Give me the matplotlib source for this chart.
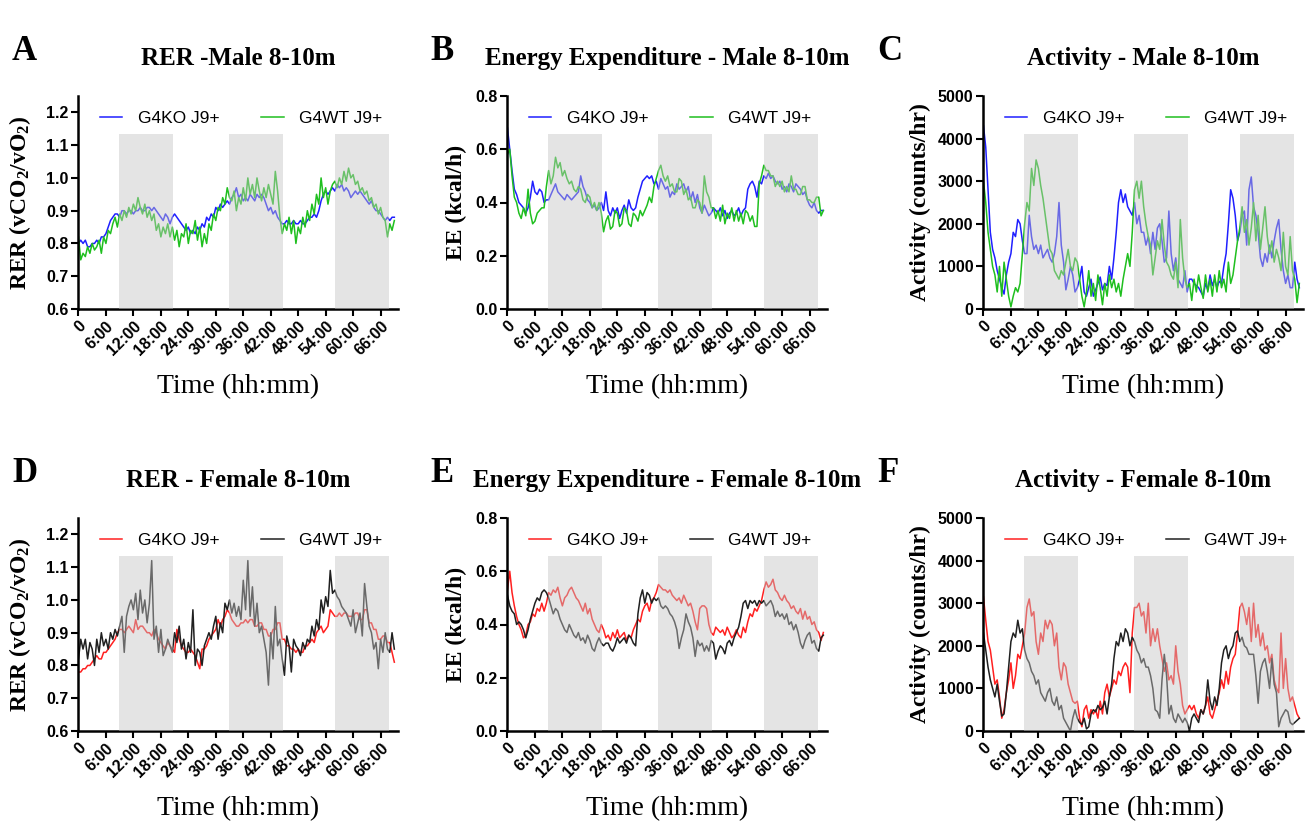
import matplotlib

matplotlib.use("Agg")
import matplotlib.pyplot as plt
import numpy as np

plt.rcParams["mathtext.default"] = "regular"

SERIF = "Liberation Serif"
SANS = "Liberation Sans"

STEP_H = 0.5  # sampling interval of the series, hours
DARK_PERIODS = [(8.9, 20.7), (32.9, 44.6), (56.0, 67.9)]
TICK_HOURS = list(range(0, 67, 6))
TICK_LABELS = ["0"] + [f"{h}:00" for h in TICK_HOURS[1:]]

# ---- male 8-10m -------------------------------------------------------------
rer_male_ko = [
    0.80, 0.81, 0.80, 0.81, 0.79, 0.79, 0.80, 0.80, 0.81, 0.80,
    0.82, 0.82, 0.83, 0.85, 0.87, 0.88, 0.89, 0.89, 0.88, 0.90,
    0.90, 0.89, 0.90, 0.90, 0.89, 0.90, 0.90, 0.91, 0.90, 0.90,
    0.91, 0.91, 0.90, 0.91, 0.90, 0.89, 0.88, 0.87, 0.89, 0.88,
    0.86, 0.88, 0.89, 0.88, 0.87, 0.86, 0.85, 0.84, 0.85, 0.83,
    0.84, 0.83, 0.85, 0.84, 0.86, 0.85, 0.88, 0.87, 0.89, 0.88,
    0.91, 0.90, 0.92, 0.91, 0.92, 0.93, 0.92, 0.94, 0.95, 0.97,
    0.94, 0.95, 0.93, 0.94, 0.93, 0.95, 0.94, 0.93, 0.95, 0.94,
    0.95, 0.94, 0.92, 0.90, 0.91, 0.89, 0.90, 0.88, 0.87, 0.86,
    0.86, 0.87, 0.86, 0.86, 0.87, 0.86, 0.86, 0.87, 0.86, 0.86,
    0.87, 0.88, 0.88, 0.89, 0.88, 0.90, 0.93, 0.95, 0.96, 0.95,
    0.96, 0.97, 0.96, 0.98, 0.97, 0.98, 0.96, 0.97, 0.96, 0.94,
    0.95, 0.96, 0.95, 0.96, 0.95, 0.94, 0.93, 0.92, 0.93, 0.91,
    0.90, 0.90, 0.89, 0.88, 0.87, 0.88, 0.87, 0.88, 0.88,
]
rer_male_wt = [
    0.82, 0.75, 0.77, 0.76, 0.79, 0.77, 0.80, 0.78, 0.79, 0.81,
    0.77, 0.82, 0.80, 0.84, 0.83, 0.86, 0.88, 0.85, 0.89, 0.87,
    0.90, 0.88, 0.91, 0.89, 0.92, 0.90, 0.94, 0.91, 0.89, 0.92,
    0.88, 0.90, 0.87, 0.89, 0.84, 0.86, 0.82, 0.85, 0.83, 0.86,
    0.82, 0.85, 0.81, 0.84, 0.79, 0.83, 0.82, 0.86, 0.80, 0.84,
    0.83, 0.87, 0.81, 0.85, 0.79, 0.83, 0.80, 0.86, 0.84, 0.89,
    0.87, 0.91, 0.90, 0.94, 0.92, 0.97, 0.94, 0.93, 0.96, 0.90,
    0.94, 0.92, 0.97, 0.93, 1.00, 0.95, 0.98, 0.94, 1.00, 0.96,
    0.93, 0.97, 0.94, 0.98, 0.95, 0.92, 1.02, 0.96, 0.88, 0.83,
    0.86, 0.84, 0.88, 0.83, 0.87, 0.80, 0.85, 0.83, 0.88, 0.85,
    0.90, 0.87, 0.92, 0.89, 0.95, 0.92, 1.00, 0.94, 0.97, 0.92,
    0.96, 0.98, 0.99, 0.97, 1.00, 0.98, 1.02, 0.99, 1.03, 1.00,
    1.01, 0.98, 0.99, 0.96, 0.97, 0.95, 0.96, 0.93, 0.94, 0.91,
    0.92, 0.89, 0.91, 0.88, 0.87, 0.82, 0.86, 0.84, 0.87,
]
ee_male_ko = [
    0.68, 0.60, 0.52, 0.45, 0.43, 0.40, 0.39, 0.38, 0.36, 0.38,
    0.42, 0.48, 0.44, 0.43, 0.45, 0.44, 0.40, 0.41, 0.41, 0.43,
    0.45, 0.47, 0.44, 0.43, 0.42, 0.41, 0.43, 0.42, 0.41, 0.42,
    0.43, 0.44, 0.50, 0.46, 0.44, 0.41, 0.40, 0.38, 0.39, 0.37,
    0.38, 0.40, 0.37, 0.44, 0.37, 0.35, 0.38, 0.36, 0.38, 0.34,
    0.37, 0.39, 0.36, 0.41, 0.38, 0.37, 0.38, 0.42, 0.45, 0.48,
    0.49, 0.50, 0.49, 0.50, 0.47, 0.48, 0.45, 0.49, 0.47, 0.45,
    0.46, 0.42, 0.44, 0.43, 0.47, 0.45, 0.46, 0.47, 0.44, 0.46,
    0.41, 0.44, 0.40, 0.43, 0.38, 0.36, 0.39, 0.37, 0.35, 0.36,
    0.38, 0.37, 0.36, 0.38, 0.35, 0.37, 0.34, 0.36, 0.37, 0.35,
    0.36, 0.38, 0.35, 0.37, 0.38, 0.45, 0.47, 0.48, 0.46, 0.42,
    0.48, 0.47, 0.50, 0.49, 0.51, 0.49, 0.50, 0.48, 0.47, 0.48,
    0.45, 0.46, 0.44, 0.47, 0.46, 0.44, 0.47, 0.46, 0.45, 0.43,
    0.44, 0.41, 0.39, 0.38, 0.40, 0.37, 0.36, 0.37, 0.37,
]
ee_male_wt = [
    0.58, 0.60, 0.50, 0.42, 0.40, 0.36, 0.34, 0.38, 0.35, 0.45,
    0.36, 0.32, 0.33, 0.36, 0.37, 0.38, 0.38, 0.46, 0.52, 0.47,
    0.50, 0.57, 0.53, 0.55, 0.50, 0.52, 0.49, 0.47, 0.48, 0.45,
    0.44, 0.46, 0.45, 0.41, 0.40, 0.43, 0.42, 0.38, 0.40, 0.37,
    0.40, 0.36, 0.29, 0.33, 0.35, 0.30, 0.31, 0.37, 0.36, 0.31,
    0.32, 0.38, 0.37, 0.32, 0.31, 0.36, 0.35, 0.33, 0.37, 0.35,
    0.37, 0.39, 0.42, 0.40, 0.46, 0.49, 0.52, 0.54, 0.50, 0.48,
    0.50, 0.46, 0.47, 0.44, 0.44, 0.49, 0.48, 0.43, 0.45, 0.41,
    0.42, 0.38, 0.38, 0.41, 0.40, 0.36, 0.50, 0.44, 0.42, 0.38,
    0.38, 0.34, 0.37, 0.33, 0.39, 0.32, 0.36, 0.34, 0.38, 0.33,
    0.37, 0.33, 0.36, 0.32, 0.37, 0.36, 0.33, 0.35, 0.31, 0.31,
    0.47, 0.50, 0.54, 0.52, 0.52, 0.50, 0.50, 0.46, 0.48, 0.46,
    0.48, 0.44, 0.46, 0.44, 0.50, 0.45, 0.45, 0.43, 0.43, 0.46,
    0.46, 0.41, 0.41, 0.40, 0.40, 0.42, 0.42, 0.35, 0.37,
]
act_male_ko = [
    4300, 3800, 2800, 1800, 1400, 1200, 900, 700, 500, 350,
    800, 1100, 1300, 1800, 1700, 2100, 2000, 1600, 1300, 1300,
    2200, 1700, 1400, 1500, 1300, 1500, 1200, 1300, 1400, 1200,
    1100, 1300, 1700, 2500, 1500, 1100, 450, 700, 1000, 800,
    400, 500, 700, 1000, 400, 300, 500, 700, 300, 450,
    600, 750, 450, 600, 550, 1000, 700, 1200, 1800, 2500,
    2800, 2500, 2700, 2400, 2300, 2200, 2500, 2000, 2200, 1800,
    1800, 1500, 1700, 1300, 1800, 1400, 1900, 2000, 1600, 1100,
    1200, 2300, 1300, 900, 1200, 700, 600, 500, 900, 400,
    700, 700, 600, 550, 500, 400, 300, 600, 450, 800,
    550, 700, 500, 650, 600, 1000, 1300, 2000, 2800, 2600,
    2200, 1600, 1800, 2200, 2300, 1500, 2800, 3100, 2400, 2200,
    1800, 1200, 1000, 1300, 1100, 1500, 1200, 1600, 1900, 2100,
    1400, 900, 600, 800, 500, 500, 1100, 700, 500,
]
act_male_wt = [
    3000, 2500, 1800, 1400, 1000, 800, 400, 1000, 300, 1100,
    700, 300, 50, 300, 500, 400, 600, 1300, 2000, 2500,
    2300, 3300, 2900, 3500, 3300, 2900, 2600, 2200, 1800, 1400,
    1300, 900, 800, 700, 900, 800, 1100, 1400, 1000, 900,
    1200, 1100, 700, 300, 50, 400, 900, 300, 600, 200,
    800, 500, 100, 600, 300, 800, 500, 700, 400, 600,
    300, 700, 1000, 1300, 1000, 1800, 2800, 3000, 2600, 3000,
    2400, 2000, 1700, 1500, 800, 1200, 1600, 1400, 2100, 1500,
    1100, 1000, 800, 700, 1100, 500, 2100, 1200, 700, 500,
    600, 200, 700, 400, 800, 500, 250, 800, 400, 700,
    300, 800, 400, 900, 500, 700, 400, 1100, 600, 800,
    1200, 1600, 1900, 2400, 1800, 2100, 1500, 1900, 2500, 1600,
    2200, 1400, 1900, 2400, 1700, 1300, 1600, 1100, 1400, 1200,
    900, 1800, 1000, 800, 1700, 900, 700, 150, 600,
]

# ---- female 8-10m -----------------------------------------------------------
rer_female_ko = [
    0.78, 0.78, 0.79, 0.79, 0.80, 0.80, 0.81, 0.82, 0.83, 0.82,
    0.82, 0.84, 0.84, 0.85, 0.86, 0.87, 0.88, 0.90, 0.91, 0.91,
    0.90, 0.91, 0.92, 0.91, 0.90, 0.94, 0.91, 0.92, 0.92, 0.91,
    0.90, 0.90, 0.89, 0.91, 0.90, 0.88, 0.87, 0.86, 0.85, 0.87,
    0.86, 0.85, 0.84, 0.91, 0.88, 0.86, 0.85, 0.84, 0.84, 0.85,
    0.84, 0.83, 0.81, 0.79, 0.85, 0.85, 0.86, 0.88, 0.89, 0.90,
    0.91, 0.94, 0.92, 0.94, 0.95, 0.97, 0.96, 0.94, 0.93, 0.92,
    0.92, 0.93, 0.93, 0.94, 0.93, 0.94, 0.94, 0.92, 0.92, 0.93,
    0.93, 0.91, 0.91, 0.89, 0.89, 0.91, 0.91, 0.93, 0.93, 0.88,
    0.88, 0.86, 0.86, 0.85, 0.85, 0.84, 0.85, 0.84, 0.84, 0.86,
    0.86, 0.87, 0.88, 0.87, 0.90, 0.91, 0.92, 0.90, 0.91, 0.92,
    0.97, 0.96, 0.95, 0.95, 0.96, 0.95, 0.96, 0.96, 0.95, 0.95,
    0.95, 0.96, 0.96, 0.94, 0.94, 0.97, 0.97, 0.93, 0.93, 0.91,
    0.91, 0.88, 0.88, 0.89, 0.89, 0.87, 0.87, 0.84, 0.81,
]
rer_female_wt = [
    0.82, 0.88, 0.85, 0.88, 0.82, 0.87, 0.85, 0.80, 0.88, 0.84,
    0.90, 0.86, 0.88, 0.85, 0.90, 0.88, 0.91, 0.89, 0.92, 0.95,
    0.84, 0.95, 0.98, 1.00, 0.97, 1.02, 0.94, 1.03, 0.96, 1.00,
    0.93, 0.99, 1.12, 0.88, 0.92, 0.84, 0.91, 0.83, 0.85, 0.88,
    0.86, 0.84, 0.90, 0.87, 0.92, 0.85, 0.88, 0.82, 0.87, 0.84,
    0.97, 0.80, 0.85, 0.84, 0.80, 0.86, 0.88, 0.90, 0.88, 0.92,
    0.95, 0.88, 0.93, 0.90, 0.99, 0.97, 1.00, 0.96, 0.99, 0.95,
    0.98, 0.94, 1.06, 0.97, 1.12, 0.95, 1.04, 0.92, 0.99, 0.90,
    0.92, 0.88, 0.84, 0.74, 0.90, 0.82, 0.98, 0.86, 0.88, 0.82,
    0.77, 0.89, 0.86, 0.78, 0.88, 0.86, 0.85, 0.83, 0.87, 0.85,
    0.88, 0.87, 0.92, 0.89, 0.94, 0.91, 1.00, 0.96, 1.01, 0.98,
    1.09, 1.02, 1.03, 1.01, 1.00, 0.98, 0.97, 0.96, 0.94, 0.92,
    0.97, 0.90, 0.93, 0.96, 0.89, 1.05, 0.98, 0.92, 0.90, 0.85,
    0.87, 0.79, 0.88, 0.84, 0.90, 0.85, 0.84, 0.90, 0.85,
]
ee_female_ko = [
    0.53, 0.60, 0.52, 0.47, 0.43, 0.40, 0.38, 0.35, 0.36, 0.40,
    0.41, 0.44, 0.43, 0.46, 0.45, 0.48, 0.45, 0.48, 0.52, 0.51,
    0.53, 0.52, 0.54, 0.50, 0.47, 0.50, 0.51, 0.53, 0.54, 0.52,
    0.50, 0.49, 0.47, 0.45, 0.48, 0.44, 0.46, 0.42, 0.40, 0.38,
    0.37, 0.40, 0.38, 0.35, 0.36, 0.34, 0.37, 0.35, 0.38, 0.35,
    0.36, 0.37, 0.34, 0.36, 0.35, 0.38, 0.40, 0.42, 0.41, 0.45,
    0.47, 0.48, 0.45, 0.49, 0.50, 0.52, 0.55, 0.54, 0.53, 0.53,
    0.52, 0.53, 0.51, 0.50, 0.49, 0.50, 0.48, 0.51, 0.49, 0.47,
    0.48, 0.45, 0.41, 0.38, 0.46, 0.47, 0.47, 0.46, 0.40, 0.37,
    0.36, 0.39, 0.38, 0.37, 0.38, 0.36, 0.39, 0.37, 0.35, 0.36,
    0.38, 0.36, 0.35, 0.39, 0.37, 0.41, 0.44, 0.43, 0.46, 0.45,
    0.47, 0.49, 0.53, 0.56, 0.54, 0.55, 0.57, 0.53, 0.52, 0.50,
    0.49, 0.51, 0.49, 0.48, 0.46, 0.47, 0.45, 0.44, 0.46, 0.42,
    0.45, 0.42, 0.43, 0.40, 0.41, 0.38, 0.37, 0.34, 0.37,
]
ee_female_wt = [
    0.51, 0.47, 0.45, 0.44, 0.40, 0.41, 0.40, 0.38, 0.35, 0.38,
    0.42, 0.45, 0.48, 0.50, 0.49, 0.52, 0.53, 0.52, 0.50, 0.47,
    0.44, 0.46, 0.45, 0.42, 0.40, 0.38, 0.37, 0.40, 0.38, 0.36,
    0.35, 0.37, 0.34, 0.35, 0.33, 0.36, 0.34, 0.31, 0.30, 0.33,
    0.35, 0.33, 0.32, 0.33, 0.33, 0.31, 0.30, 0.32, 0.35, 0.33,
    0.34, 0.35, 0.33, 0.36, 0.35, 0.33, 0.32, 0.44, 0.50, 0.53,
    0.48, 0.52, 0.51, 0.48, 0.50, 0.49, 0.50, 0.47, 0.46, 0.47,
    0.46, 0.44, 0.43, 0.41, 0.38, 0.31, 0.35, 0.38, 0.44, 0.41,
    0.39, 0.35, 0.28, 0.34, 0.32, 0.33, 0.30, 0.32, 0.30, 0.34,
    0.33, 0.27, 0.30, 0.32, 0.31, 0.29, 0.33, 0.34, 0.32, 0.35,
    0.37, 0.39, 0.43, 0.48, 0.49, 0.46, 0.49, 0.48, 0.49, 0.47,
    0.49, 0.48, 0.49, 0.47, 0.48, 0.49, 0.47, 0.43, 0.45, 0.43,
    0.44, 0.42, 0.44, 0.40, 0.41, 0.38, 0.40, 0.37, 0.33, 0.31,
    0.34, 0.36, 0.37, 0.33, 0.34, 0.31, 0.30, 0.35, 0.36,
]
act_female_ko = [
    3150, 2600, 2100, 1900, 1500, 1100, 1200, 800, 300, 500,
    900, 1200, 1600, 1000, 1300, 1800, 1700, 2000, 2300, 2900,
    3100, 2700, 2800, 2100, 1800, 2300, 2100, 2600, 2400, 2600,
    2500, 2000, 2300, 1500, 1200, 1600, 1500, 1100, 900, 700,
    650, 700, 300, 100, 500, 600, 300, 500, 400, 500,
    300, 700, 400, 900, 1100, 800, 1000, 1200, 1100, 1400,
    1300, 1500, 1600, 1500, 900, 2300, 2900, 2900, 3000, 2700,
    2800, 2300, 3000, 2000, 2400, 2100, 2400, 2000, 1700, 1400,
    1600, 1200, 1300, 1100, 2000, 1400, 1100, 600, 400, 500,
    600, 500, 600, 400, 300, 500, 400, 600, 800, 400,
    300, 500, 700, 900, 1200, 1000, 1400, 1100, 1500, 1700,
    1800, 2300, 2900, 3000, 2800, 2500, 2900, 2100, 3000, 2200,
    2500, 2000, 2300, 1900, 2000, 1600, 1800, 1200, 1000, 900,
    2300, 1000, 1700, 1000, 700, 800, 600, 400, 300,
]
act_female_wt = [
    2300, 1900, 1500, 1200, 1000, 800, 1100, 700, 350, 400,
    900, 1500, 2100, 2300, 2200, 2600, 2300, 2400, 1900, 1700,
    1600, 1400, 1300, 1100, 1200, 900, 800, 700, 900, 1000,
    700, 600, 800, 500, 600, 300, 200, 100, 0, 300,
    500, 300, 200, 150, 300, 50, 100, 400, 500, 450,
    600, 500, 550, 700, 400, 800, 1100, 1700, 2100, 2000,
    2300, 2100, 2400, 2300, 2000, 2200, 2100, 1900, 1800, 1600,
    1700, 1500, 1500, 1300, 1000, 500, 450, 300, 1200, 1800,
    1300, 400, 600, 300, 200, 400, 300, 200, 300, 200,
    0, 300, 400, 300, 200, 500, 400, 600, 1200, 700,
    500, 800, 600, 1000, 1600, 1900, 2000, 1700, 1900, 2000,
    2300, 2350, 2100, 2200, 2000, 1950, 1800, 1800, 1800, 1300,
    650, 1400, 1600, 1700, 1400, 1000, 1700, 1100, 900, 100,
    300, 400, 500, 450, 200, 150, 200, 250, 300,
]

MALE_COLORS = ("#1f1fff", "#1fbf1f")
FEMALE_COLORS = ("#ff2020", "#202020")
GROUP_LABELS = ("G4KO J9+", "G4WT J9+")

RER_TICKS = [0.6, 0.7, 0.8, 0.9, 1.0, 1.1, 1.2]
EE_TICKS = [0.0, 0.2, 0.4, 0.6, 0.8]
ACT_TICKS = [0, 1000, 2000, 3000, 4000, 5000]

PANELS = [
    ("A", "RER -Male 8-10m", (rer_male_ko, rer_male_wt), MALE_COLORS,
     (0.6, 1.25), RER_TICKS, "{:.1f}", "RER (vCO$_2$/vO$_2$)", 9),
    ("B", "Energy Expenditure - Male 8-10m", (ee_male_ko, ee_male_wt), MALE_COLORS,
     (0.0, 0.8), EE_TICKS, "{:.1f}", "EE (kcal/h)", 6),
    ("C", "Activity - Male 8-10m", (act_male_ko, act_male_wt), MALE_COLORS,
     (0, 5000), ACT_TICKS, "{:d}", "Activity (counts/hr)", 5),
    ("D", "RER - Female 8-10m", (rer_female_ko, rer_female_wt), FEMALE_COLORS,
     (0.6, 1.25), RER_TICKS, "{:.1f}", "RER (vCO$_2$/vO$_2$)", 9),
    ("E", "Energy Expenditure - Female 8-10m", (ee_female_ko, ee_female_wt), FEMALE_COLORS,
     (0.0, 0.8), EE_TICKS, "{:.1f}", "EE (kcal/h)", 6),
    ("F", "Activity - Female 8-10m", (act_female_ko, act_female_wt), FEMALE_COLORS,
     (0, 5000), ACT_TICKS, "{:d}", "Activity (counts/hr)", 5),
]

W, H = 1309, 824
AX_LEFT = [78, 507, 983]
AX_TOP = [96, 518]
AX_W, AX_H = 320, 213
LETTER_X = [12, 430, 877]


def draw_panel(ax, title, series, colors, ylim, yticks, yfmt, ylabel, ypad):
    for vals, color, label in zip(series, colors, GROUP_LABELS):
        t = np.arange(len(vals)) * STEP_H
        ax.plot(t, vals, color=color, lw=1.1, label=label, zorder=2)
    for start, end in DARK_PERIODS:
        ax.axvspan(start, end, ymin=0, ymax=0.82, facecolor="#c4c4c4", alpha=0.45,
                   lw=0, zorder=3)

    ax.set_xlim(-0.1, 69.8)
    ax.set_ylim(*ylim)
    ax.set_xticks(TICK_HOURS)
    ax.set_xticklabels(TICK_LABELS, rotation=45, ha="right", rotation_mode="anchor",
                       family=SANS, fontweight="bold", fontsize=11.5)
    ax.set_yticks(yticks)
    ax.set_yticklabels([yfmt.format(v) for v in yticks], family=SANS,
                       fontweight="bold", fontsize=11.5)
    for side in ("top", "right"):
        ax.spines[side].set_visible(False)
    for side in ("left", "bottom"):
        ax.spines[side].set_linewidth(1.8)
    ax.tick_params(direction="out", length=5, width=1.5, pad=2)

    ax.set_ylabel(ylabel, family=SERIF, fontweight="bold", fontsize=17, labelpad=ypad)
    ax.set_xlabel("Time (hh:mm)", family=SERIF, fontsize=20, labelpad=11)
    ax.set_title(title, family=SERIF, fontweight="bold", fontsize=18, pad=22)

    leg = ax.legend(loc="center", bbox_to_anchor=(0.51, 0.895), ncol=2, frameon=False,
                    handlelength=1.3, handletextpad=0.9, columnspacing=2.4,
                    prop={"family": SANS, "size": 12.5})
    leg.set_zorder(5)


fig = plt.figure(figsize=(W / 100, H / 100), dpi=100)
for i, (letter, title, series, colors, ylim, yticks, yfmt, ylabel, ypad) in enumerate(PANELS):
    row, col = divmod(i, 3)
    left = AX_LEFT[col] / W
    bottom = 1 - (AX_TOP[row] + AX_H) / H
    ax = fig.add_axes([left, bottom, AX_W / W, AX_H / H])
    draw_panel(ax, title, series, colors, ylim, yticks, yfmt, ylabel, ypad)
    fig.text(LETTER_X[col] / W, 1 - (AX_TOP[row] - 45) / H, letter, family=SERIF,
             fontweight="bold", fontsize=25, ha="left", va="center")

fig.savefig("out.png", dpi=100)
plt.close(fig)
